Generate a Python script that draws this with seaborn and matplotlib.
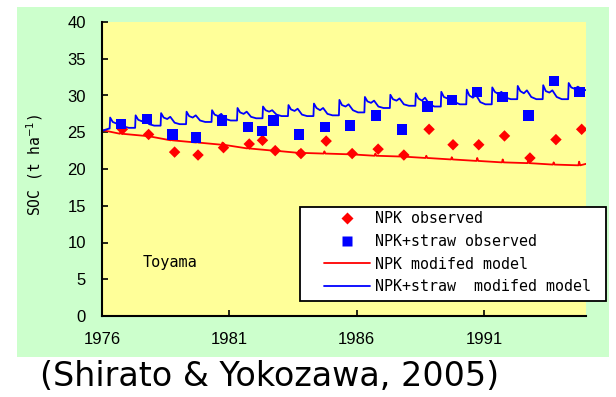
import numpy as np
import pandas as pd
import matplotlib
matplotlib.use("Agg")
import matplotlib.pyplot as plt
import seaborn as sns
from matplotlib.patches import Rectangle
from matplotlib.lines import Line2D

# ---------------- data ----------------
npk_obs_t = [1976.80, 1977.83, 1978.85, 1979.77, 1980.77, 1981.78, 1982.30, 1982.80,
             1983.81, 1984.80, 1985.82, 1986.84, 1987.85, 1988.84, 1989.78, 1990.79,
             1991.80, 1992.80, 1993.82, 1994.83]
npk_obs = [25.4, 24.7, 22.3, 21.9, 22.9, 23.4, 23.9, 22.5, 22.1, 23.8, 22.1, 22.7,
           21.9, 25.4, 23.3, 23.3, 24.5, 21.5, 24.0, 25.4]

straw_obs_t = [1976.75, 1977.77, 1978.77, 1979.70, 1980.72, 1981.73, 1982.27, 1982.74,
               1983.73, 1984.75, 1985.74, 1986.76, 1987.77, 1988.78, 1989.73, 1990.71,
               1991.72, 1992.74, 1993.74, 1994.75]
straw_obs = [26.1, 26.8, 24.7, 24.3, 26.6, 25.7, 25.2, 26.6, 24.7, 25.7, 25.9, 27.3,
             25.4, 28.5, 29.4, 30.5, 29.8, 27.3, 32.0, 30.5]

model_years = list(range(1976, 1995))

# NPK modified model: level before the yearly bump and the bump value
npk_start = 25.3
npk_base = [24.8, 24.5, 23.9, 23.6, 23.3, 22.8, 22.5, 22.2, 22.1, 22.0, 21.8, 21.7,
            21.5, 21.3, 21.1, 20.9, 20.8, 20.6, 20.5]
npk_bump = [25.1, 24.8, 24.2, 23.9, 23.6, 23.1, 22.8, 22.5, 22.4, 22.3, 22.1, 22.0,
            21.8, 21.6, 21.5, 21.3, 21.1, 20.9, 21.0]
npk_end = 20.7

# NPK+straw modified model: yearly cycle values (peak, decay, bump, trough)
straw_start = [25.2, 25.5]
straw_peak = [27.0, 27.3, 27.6, 27.8, 28.0, 28.3, 28.5, 28.7, 28.9, 29.4, 29.8, 30.1,
              30.3, 30.5, 30.8, 31.1, 31.3, 31.4, 31.7]
straw_a = [26.4, 26.7, 27.0, 27.2, 27.4, 27.7, 28.0, 28.1, 28.3, 28.7, 29.2, 29.5,
           29.6, 29.8, 30.0, 30.5, 30.6, 30.6, 31.1]
straw_b = [26.2, 26.5, 26.8, 27.0, 27.2, 27.5, 27.8, 27.9, 28.0, 28.5, 29.0, 29.3,
           29.3, 29.6, 29.7, 30.2, 30.3, 30.4, 30.9]
straw_c = [26.5, 26.8, 27.1, 27.3, 27.5, 27.8, 28.0, 28.2, 28.3, 28.8, 29.3, 29.6,
           29.7, 29.9, 30.1, 30.5, 30.7, 30.7, 31.2]
straw_e = [25.8, 26.1, 26.3, 26.6, 26.8, 27.1, 27.4, 27.4, 27.5, 28.0, 28.5, 28.8,
           28.8, 29.1, 29.1, 29.7, 29.8, 29.8, 30.8]
straw_trough = [25.6, 25.9, 26.1, 26.4, 26.6, 26.9, 27.2, 27.2, 27.3, 27.7, 28.3, 28.6,
                28.5, 28.8, 28.8, 29.5, 29.5, 29.5, 30.7]

x_ticks = [1976, 1981, 1986, 1991]
y_ticks = [0, 5, 10, 15, 20, 25, 30, 35, 40]

labels = ["NPK observed", "NPK+straw observed", "NPK modifed model",
          "NPK+straw  modifed model"]

# ---------------- build model line tables ----------------
npk_t, npk_v = [1976.0], [npk_start]
for k, yr in enumerate(model_years):
    npk_t += [yr + 0.70, yr + 0.73, yr + 0.77]
    npk_v += [npk_base[k], npk_bump[k], npk_base[k]]
npk_t.append(1995.0)
npk_v.append(npk_end)
npk_model = pd.DataFrame({"t": npk_t, "v": npk_v})

st_t, st_v = [1976.0, 1976.28], list(straw_start)
offs = [0.30, 0.32, 0.42, 0.56, 0.68, 0.85, 1.05]
for k, yr in enumerate(model_years):
    prev = straw_start[1] if k == 0 else straw_trough[k - 1]
    vals = [prev, straw_peak[k], straw_a[k], straw_b[k], straw_c[k], straw_e[k],
            straw_trough[k]]
    st_t += [yr + o for o in offs]
    st_v += vals
straw_model = pd.DataFrame({"t": st_t, "v": st_v})

npk_df = pd.DataFrame({"t": npk_obs_t, "v": npk_obs})
straw_df = pd.DataFrame({"t": straw_obs_t, "v": straw_obs})

# ---------------- plot ----------------
sns.set_style("ticks")
mono = ["DejaVu Sans Mono"]
sans = ["Liberation Sans", "DejaVu Sans"]
plt.rcParams["font.family"] = sans
plt.rcParams["text.color"] = "black"
plt.rcParams["axes.labelcolor"] = "black"

W, H = 616, 397
fig = plt.figure(figsize=(W / 100, H / 100), dpi=100)
fig.patch.set_facecolor("white")
fig.patches.append(Rectangle((17 / W, 1 - 357 / H), 592 / W, 350 / H,
                             transform=fig.transFigure, facecolor="#CCFFCC",
                             edgecolor="none", zorder=-1))

ax = fig.add_axes([102 / W, 1 - 316 / H, 484 / W, 294 / H])
ax.set_facecolor("#FFFF99")

red, blue = "#FF0000", "#0000FF"
sns.lineplot(data=npk_model, x="t", y="v", sort=False, estimator=None, color=red,
             lw=1.3, ax=ax)
sns.lineplot(data=straw_model, x="t", y="v", sort=False, estimator=None, color=blue,
             lw=1.3, ax=ax)
sns.scatterplot(data=npk_df, x="t", y="v", marker="D", s=34, color=red,
                edgecolor="none", ax=ax, zorder=4)
sns.scatterplot(data=straw_df, x="t", y="v", marker="s", s=56, color=blue,
                edgecolor="none", ax=ax, zorder=4)

ax.set_xlim(1976, 1995)
ax.set_ylim(0, 40)
ax.set_xticks(x_ticks)
ax.set_yticks(y_ticks)
ax.set_xticklabels([str(v) for v in x_ticks])
ax.set_yticklabels([str(v) for v in y_ticks])
ax.tick_params(direction="in", length=4, width=1.2, pad=11.5, labelsize=12,
               colors="black")
for s in ["top", "right"]:
    ax.spines[s].set_visible(False)
for s in ["left", "bottom"]:
    ax.spines[s].set_linewidth(1.5)
    ax.spines[s].set_color("black")
ax.set_xlabel("")
ax.set_ylabel("SOC (t ha$^{-1}$)", family=mono, fontsize=10.5, color="black")
ax.yaxis.label.set_verticalalignment("center")
ax.yaxis.set_label_coords((35 - 102) / 484, (316 - 165) / 294)
ax.grid(False)

ax.text((143 - 102) / 484, (316 - 262) / 294, "Toyama", transform=ax.transAxes,
        family=mono, fontsize=11, ha="left", va="center", color="black")

# legend box + legend
fig.patches.append(Rectangle((300 / W, 1 - 301 / H), 306 / W, 94 / H,
                             transform=fig.transFigure, facecolor="white",
                             edgecolor="black", lw=1.3, zorder=4))
handles = [
    Line2D([], [], ls="none", marker="D", ms=6, color=red, mec="none"),
    Line2D([], [], ls="none", marker="s", ms=7, color=blue, mec="none"),
    Line2D([], [], color=red, lw=1.3),
    Line2D([], [], color=blue, lw=1.3),
]
leg = fig.legend(handles, labels, loc="upper left",
                 bbox_to_anchor=(324 / W, 1 - 211 / H), frameon=False,
                 borderpad=0, borderaxespad=0, handlelength=3.07,
                 handletextpad=0.35, labelspacing=0.52,
                 prop={"family": mono, "size": 10.8}, labelcolor="black")
leg.set_zorder(5)

fig.text(40 / W, 1 - 386 / H, "(Shirato & Yokozawa, 2005)",
         family=["DejaVu Sans"], fontsize=24, ha="left", va="baseline",
         color="black")

fig.savefig("out.png", dpi=100, facecolor="white")
